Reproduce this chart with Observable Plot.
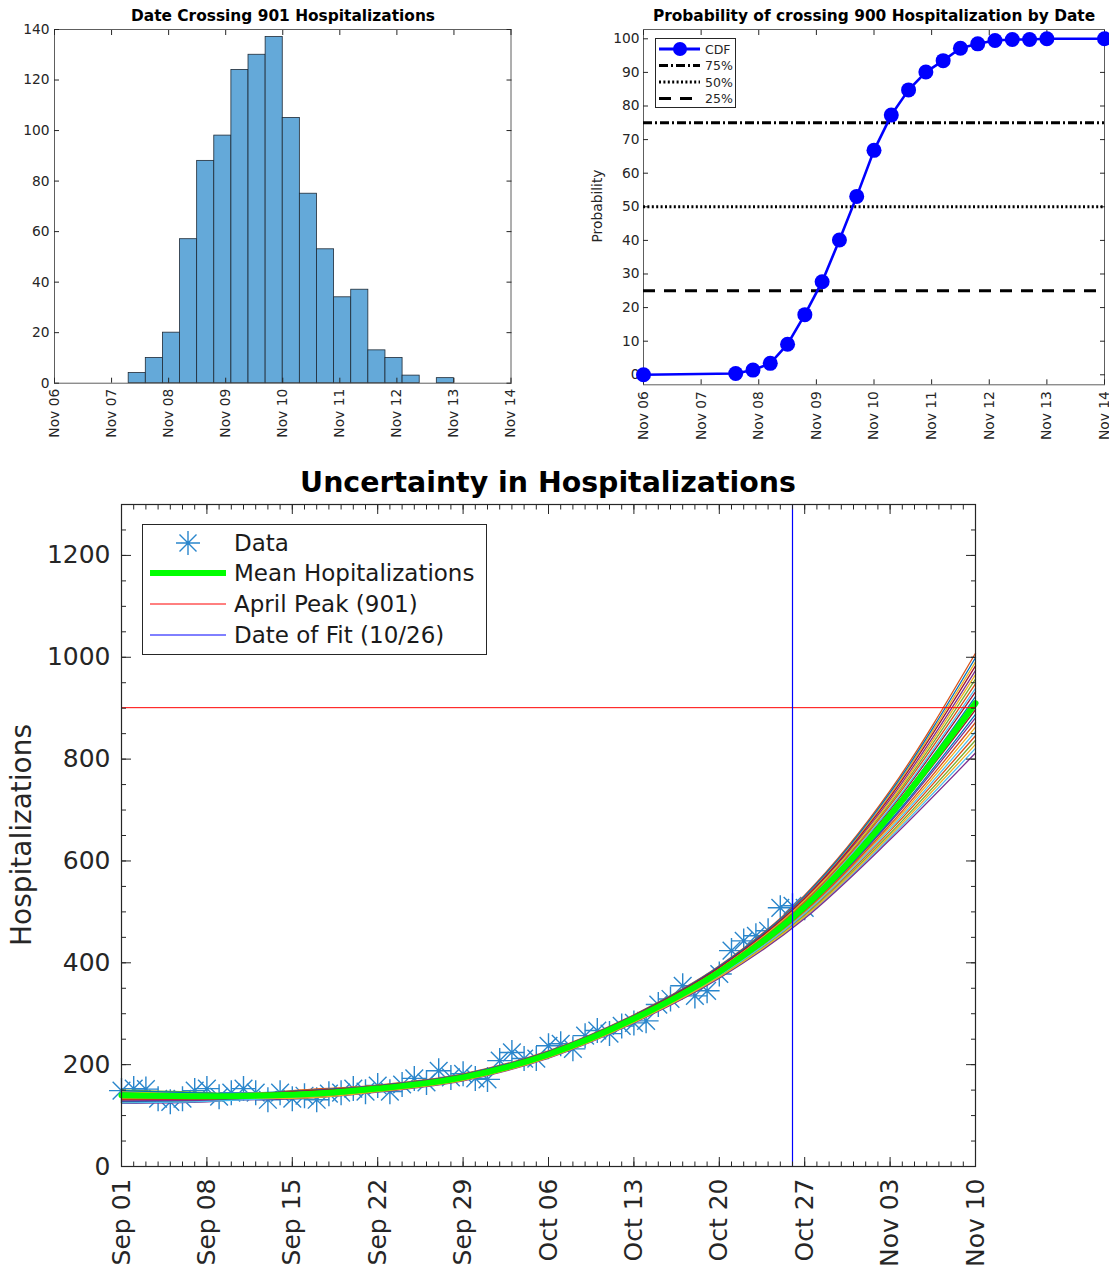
<!DOCTYPE html>
<html>
<head>
<meta charset="utf-8">
<script src="https://cdn.jsdelivr.net/npm/d3@7"></script>
<script src="https://cdn.jsdelivr.net/npm/@observablehq/plot@0.6"></script>
<style>
  html, body { margin: 0; padding: 0; background: #fff; }
  body { position: relative; width: 1109px; height: 1269px; overflow: hidden;
         font-family: "DejaVu Sans", sans-serif; color: #262626; }
  .abs { position: absolute; }
  .title { position: absolute; font-weight: bold; color: #000; white-space: nowrap;
           transform: translateX(-50%); }
  .vlabel { position: absolute; white-space: nowrap; transform: translate(-50%, -50%) rotate(-90deg); }
  svg { overflow: visible; }
</style>
</head>
<body>
<div id="hist" class="abs" style="left:0;top:0"></div>
<div id="cdf" class="abs" style="left:580px;top:0"></div>
<div id="main" class="abs" style="left:0;top:460px"></div>

<div class="title" style="left:283px;top:9px;font-size:15.4px;line-height:15px">Date Crossing 901 Hospitalizations</div>
<div class="title" style="left:874px;top:9px;font-size:15.4px;line-height:15px">Probability of crossing 900 Hospitalization by Date</div>
<div class="vlabel" style="left:597px;top:206px;font-size:13.8px">Probability</div>
<div class="title" style="left:548px;top:469px;font-size:28.4px;line-height:28px">Uncertainty in Hospitalizations</div>
<div class="vlabel" style="left:21px;top:835px;font-size:28px">Hospitalizations</div>

<svg class="abs" style="left:655px;top:38px" width="81" height="70" font-family="DejaVu Sans" font-size="12.5" fill="#262626">
  <rect x="0.5" y="0.5" width="80" height="69" fill="#fff" stroke="#262626" stroke-width="1"/>
  <line x1="4" x2="45" y1="11" y2="11" stroke="#0000ff" stroke-width="3"/>
  <circle cx="25" cy="11" r="7" fill="#0000ff"/>
  <line x1="4" x2="45" y1="27.5" y2="27.5" stroke="#000" stroke-width="3" stroke-dasharray="9,3,2,3"/>
  <line x1="4" x2="45" y1="44" y2="44" stroke="#000" stroke-width="3" stroke-dasharray="2,2.4"/>
  <line x1="4" x2="45" y1="60.5" y2="60.5" stroke="#000" stroke-width="3" stroke-dasharray="12,9"/>
  <text x="50" y="15.5">CDF</text>
  <text x="50" y="32">75%</text>
  <text x="50" y="48.5">50%</text>
  <text x="50" y="65">25%</text>
</svg>

<svg class="abs" style="left:142px;top:524px" width="345" height="131" font-family="DejaVu Sans" font-size="23" fill="#1a1a1a">
  <rect x="0.5" y="0.5" width="344" height="130" fill="#fff" stroke="#262626" stroke-width="1"/>
  <path d="M46 7V31M34 19H58M37.5 10.5L54.5 27.5M37.5 27.5L54.5 10.5" stroke="#2a86cc" stroke-width="1.4" fill="none"/>
  <line x1="8" x2="84" y1="49" y2="49" stroke="#00ff00" stroke-width="6"/>
  <line x1="8" x2="84" y1="80" y2="80" stroke="#ff0000" stroke-width="1"/>
  <line x1="8" x2="84" y1="111" y2="111" stroke="#0000ff" stroke-width="1"/>
  <text x="92" y="27">Data</text>
  <text x="92" y="57">Mean Hopitalizations</text>
  <text x="92" y="88">April Peak (901)</text>
  <text x="92" y="119">Date of Fit (10/26)</text>
</svg>

<script>
// ---------- histogram: date the 901 threshold is crossed ----------
const histOrigin = "2020-11-06";                       // x-axis starts here
const histEnd = "2020-11-14";
const histBinEdges = [1.3, 1.6, 1.9, 2.2, 2.5, 2.8, 3.1, 3.4, 3.7, 4.0,
                      4.3, 4.6, 4.9, 5.2, 5.5, 5.8, 6.1, 6.4, 6.7, 7.0];  // days after Nov 06
const histCounts = [4, 10, 20, 57, 88, 98, 124, 130, 137, 105, 75, 53, 34, 37, 13, 10, 3, 0, 2];
const histYTicks = [0, 20, 40, 60, 80, 100, 120, 140];

// ---------- cumulative probability of crossing 900 ----------
const cdfDays = [0, 1.6, 1.9, 2.2, 2.5, 2.8, 3.1, 3.4, 3.7, 4.0, 4.3,
                 4.6, 4.9, 5.2, 5.5, 5.8, 6.1, 6.4, 6.7, 7.0, 8.0];   // days after Nov 06
const cdfPercent = [0, 0.4, 1.4, 3.4, 9.1, 17.9, 27.7, 40.1, 53.1, 66.8, 77.3,
                    84.8, 90.1, 93.5, 97.2, 98.5, 99.5, 99.8, 99.8, 100, 100];
const cdfYTicks = [0, 10, 20, 30, 40, 50, 60, 70, 80, 90, 100];
const quartileLevels = [75, 50, 25];
const quartileDash = ["9,3,2,3", "2,2.4", "12,9"];

// ---------- daily hospitalizations and fitted ensemble ----------
const dataStart = "2020-09-01";
const observed = [149, 153, 152, 133, 127, 133, 149,
                  153, 137, 145, 153, 145, 131, 145,
                  133, 139, 131, 143, 145, 153, 147,
                  159, 147, 161, 173, 165, 188, 175,
                  182, 173, 171, 208, 224, 212, 212,
                  237, 241, 231, 257, 267, 261, 276,
                  282, 286, 318, 329, 355, 335, 345,
                  378, 424, 443, 453, 463, 508, 512, 508];
const weekDates = ["2020-09-01", "2020-09-08", "2020-09-15", "2020-09-22", "2020-09-29", "2020-10-06",
                   "2020-10-13", "2020-10-20", "2020-10-27", "2020-11-03", "2020-11-10"];
const meanHosp = [140, 138, 141, 153, 175, 220, 290, 382, 510, 690, 910];
const ensemble = [
  [136, 135, 142, 154, 176, 221, 291, 384, 513, 696, 923],
  [146, 142, 136, 148, 170, 215, 285, 374, 495, 659, 846],
  [130, 131, 148, 159, 181, 226, 297, 392, 529, 730, 991],
  [142, 139, 139, 151, 173, 218, 288, 378, 503, 676, 881],
  [126, 128, 145, 156, 178, 223, 294, 388, 521, 713, 957],
  [148, 144, 134, 147, 169, 214, 283, 371, 489, 646, 821],
  [138, 137, 143, 155, 177, 222, 292, 385, 515, 701, 932],
  [128, 130, 141, 153, 175, 220, 290, 382, 509, 688, 906],
  [134, 134, 149, 160, 182, 227, 298, 394, 533, 738, 1008],
  [144, 141, 137, 150, 172, 217, 286, 376, 499, 667, 863],
  [124, 127, 146, 158, 180, 225, 295, 390, 525, 721, 974],
  [150, 145, 135, 148, 170, 215, 284, 373, 493, 654, 837],
  [140, 138, 143, 155, 177, 222, 292, 386, 517, 704, 939],
  [132, 132, 140, 152, 174, 219, 289, 380, 507, 684, 897],
  [145, 142, 148, 159, 181, 226, 297, 393, 531, 734, 999],
  [137, 136, 138, 150, 172, 217, 287, 377, 501, 671, 872],
  [147, 143, 146, 157, 179, 224, 295, 389, 523, 717, 966],
  [129, 130, 133, 146, 168, 213, 282, 370, 487, 642, 812],
  [143, 140, 141, 153, 175, 220, 290, 382, 511, 692, 914],
  [125, 128, 136, 149, 171, 216, 285, 375, 497, 663, 854],
  [141, 139, 147, 158, 180, 225, 296, 391, 527, 726, 983],
  [149, 144, 139, 151, 173, 218, 288, 379, 505, 679, 888],
  [133, 133, 144, 156, 178, 223, 293, 387, 519, 709, 948],
  [135, 135, 134, 147, 169, 214, 283, 372, 491, 650, 829]
];
const lineColors = ["#0072BD", "#D95319", "#EDB120", "#7E2F8E", "#77AC30", "#4DBEEE", "#A2142F"];
const aprilPeak = 901;
const fitDate = "2020-10-26";
const mainEnd = "2020-11-10";
const mainYTicks = [0, 200, 400, 600, 800, 1000, 1200];

// ---------- helpers ----------
const DAY = 864e5;
const fromOrigin = (origin, d) => new Date(new Date(origin).getTime() + d * DAY);
const fmtDay = d3.utcFormat("%b %d");
const fmtInt = d => String(d);
const blank = () => "";
const axisInk = "#262626";

// MATLAB-style eight-armed asterisk marker
const asterisk8 = {
  draw(ctx, size) {
    const r = Math.sqrt(size / Math.PI), q = r * Math.SQRT1_2;
    ctx.moveTo(0, -r); ctx.lineTo(0, r);
    ctx.moveTo(-r, 0); ctx.lineTo(r, 0);
    ctx.moveTo(-q, -q); ctx.lineTo(q, q);
    ctx.moveTo(-q, q); ctx.lineTo(q, -q);
  }
};

// inward ticks on all four sides plus outer labels
function boxAxes({xTicks, xMinor, xMajorLen, xMinorLen, xPad, yTicks, yMinor, yMajorLen, yMinorLen, yPad}) {
  const marks = [
    Plot.axisX({ticks: xTicks, tickFormat: fmtDay, tickRotate: -90, tickSize: 0, tickPadding: xPad, label: null}),
    Plot.axisY({ticks: yTicks, tickFormat: fmtInt, tickSize: 0, tickPadding: yPad, label: null})
  ];
  for (const anchor of ["bottom", "top"]) {
    marks.push(Plot.axisX({anchor, ticks: xTicks, tickSize: -xMajorLen, tickFormat: blank, label: null, stroke: axisInk}));
    if (xMinor) marks.push(Plot.axisX({anchor, ticks: xMinor, tickSize: -xMinorLen, tickFormat: blank, label: null, stroke: axisInk}));
  }
  for (const anchor of ["left", "right"]) {
    marks.push(Plot.axisY({anchor, ticks: yTicks, tickSize: -yMajorLen, tickFormat: blank, label: null, stroke: axisInk}));
    if (yMinor) marks.push(Plot.axisY({anchor, ticks: yMinor, tickSize: -yMinorLen, tickFormat: blank, label: null, stroke: axisInk}));
  }
  return marks;
}

// ---------- histogram ----------
const histDays = d3.utcDay.range(new Date(histOrigin), fromOrigin(histEnd, 1));
const histBins = histCounts.map((count, i) => ({
  x1: fromOrigin(histOrigin, histBinEdges[i]),
  x2: fromOrigin(histOrigin, histBinEdges[i + 1]),
  count
}));
document.getElementById("hist").append(Plot.plot({
  width: 530, height: 445,
  marginLeft: 54, marginRight: 19.5, marginTop: 29, marginBottom: 62.3,
  style: {fontFamily: "DejaVu Sans", fontSize: "13.8px", color: axisInk, background: "transparent", overflow: "visible"},
  x: {type: "utc", domain: [new Date(histOrigin), new Date(histEnd)]},
  y: {domain: [0, 140]},
  marks: [
    Plot.rectY(histBins, {x1: "x1", x2: "x2", y: "count", fill: "#64a9d9", stroke: "#1e2a36", strokeWidth: 0.8}),
    Plot.frame({stroke: "#5e5e5e"}),
    ...boxAxes({xTicks: histDays, xMajorLen: 5, xPad: 5.6, yTicks: histYTicks, yMajorLen: 5, yPad: 5})
  ]
}));

// ---------- CDF ----------
const cdfRows = cdfDays.map((d, i) => ({date: fromOrigin(histOrigin, d), p: cdfPercent[i]}));
document.getElementById("cdf").append(Plot.plot({
  width: 529, height: 445,
  marginLeft: 63, marginRight: 5, marginTop: 29, marginBottom: 60.7,
  style: {fontFamily: "DejaVu Sans", fontSize: "13.8px", color: axisInk, background: "transparent", overflow: "visible"},
  x: {type: "utc", domain: [new Date(histOrigin), new Date(histEnd)]},
  y: {domain: [-2.98, 102.77]},
  marks: [
    Plot.frame({stroke: "#5e5e5e"}),
    ...boxAxes({xTicks: histDays, xMajorLen: 5, xPad: 6.4, yTicks: cdfYTicks, yMajorLen: 5, yPad: 4}),
    ...quartileLevels.map((q, i) => Plot.ruleY([q], {stroke: "#000", strokeWidth: 3, strokeDasharray: quartileDash[i]})),
    Plot.line(cdfRows, {x: "date", y: "p", stroke: "#0000ff", strokeWidth: 2.6}),
    Plot.dot(cdfRows, {x: "date", y: "p", r: 7.5, fill: "#0000ff", stroke: "none"})
  ]
}));

// ---------- hospitalization ensemble ----------
const obsRows = observed.map((v, i) => ({date: d3.utcDay.offset(new Date(dataStart), i), value: v}));
const ensRows = ensemble.flatMap((row, m) => row.map((v, k) => ({
  member: m, color: lineColors[m % lineColors.length], date: new Date(weekDates[k]), value: v
})));
const meanRows = meanHosp.map((v, k) => ({date: new Date(weekDates[k]), value: v}));
const mainDays = d3.utcDay.range(new Date(dataStart), fromOrigin(mainEnd, 1));
const weekTicks = weekDates.map(d => new Date(d));

document.getElementById("main").append(Plot.plot({
  width: 1109, height: 809,
  marginLeft: 121, marginRight: 134, marginTop: 44, marginBottom: 103,
  style: {fontFamily: "DejaVu Sans", fontSize: "25px", color: axisInk, background: "transparent", overflow: "visible"},
  x: {type: "utc", domain: [new Date(dataStart), new Date(mainEnd)]},
  y: {domain: [0, 1300]},
  color: {type: "identity"},
  marks: [
    Plot.dot(obsRows, {x: "date", y: "value", symbol: asterisk8, r: 12.5, fill: "none", stroke: "#2a86cc", strokeWidth: 1.4}),
    Plot.line(ensRows, {x: "date", y: "value", z: "member", stroke: "color", strokeWidth: 1.3, curve: "monotone-x"}),
    Plot.line(meanRows, {x: "date", y: "value", stroke: "#00ff00", strokeWidth: 6, curve: "monotone-x"}),
    Plot.ruleY([aprilPeak], {stroke: "#ff0000", strokeWidth: 1}),
    Plot.ruleX([new Date(fitDate)], {stroke: "#0000ff", strokeWidth: 1.2}),
    Plot.frame({stroke: axisInk, strokeWidth: 1.2}),
    ...boxAxes({xTicks: weekTicks, xMinor: mainDays, xMajorLen: 9, xMinorLen: 4.5, xPad: 12,
                yTicks: mainYTicks, yMinor: d3.range(0, 1301, 50), yMajorLen: 10, yMinorLen: 5, yPad: 11})
  ]
}));
</script>
</body>
</html>
